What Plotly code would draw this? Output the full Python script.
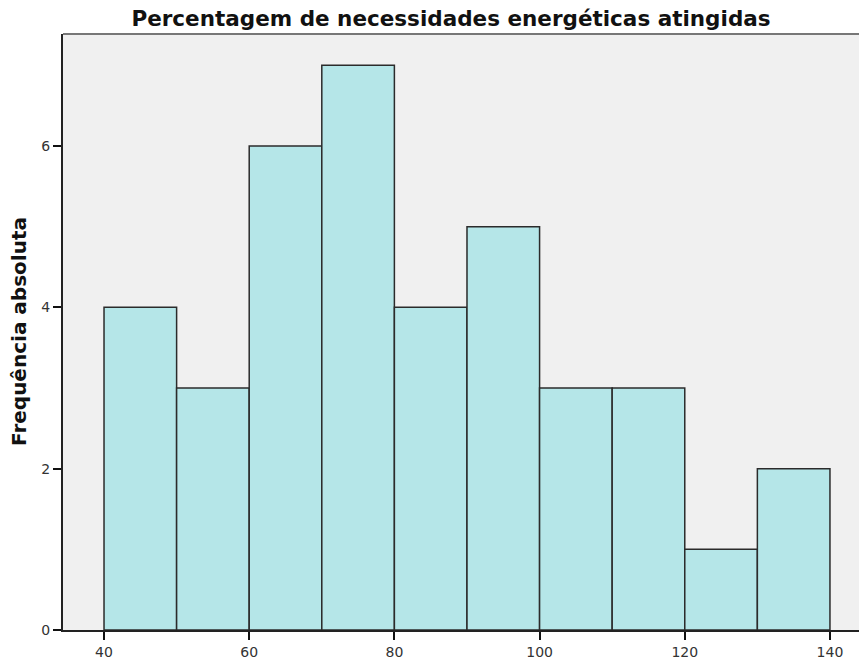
import plotly.graph_objects as go

bin_starts = [40, 50, 60, 70, 80, 90, 100, 110, 120, 130]
bin_width = 10
counts = [4, 3, 6, 7, 4, 5, 3, 3, 1, 2]
x_ticks = [40, 60, 80, 100, 120, 140]
y_ticks = [0, 2, 4, 6]

centers = [s + bin_width / 2 for s in bin_starts]

fig = go.Figure(go.Bar(
    x=centers, y=counts, width=[bin_width] * len(counts),
    marker=dict(color="#B5E6E8", line=dict(color="#2b2b2b", width=1.5)),
))

W, H = 859, 660
L, T, B = 63, 34, 30
PW, PH = W - L, H - T - B
fig.update_layout(
    width=W, height=H,
    margin=dict(l=L, r=0, t=T, b=B, pad=0),
    paper_bgcolor="white", plot_bgcolor="#F0F0F0",
    showlegend=False,
    title=dict(text="<b>Percentagem de necessidades energéticas atingidas</b>",
               x=451 / W, xanchor="center", y=1 - 18 / H, yanchor="middle",
               font=dict(family="DejaVu Sans", size=21.5, color="#111")),
    font=dict(family="DejaVu Sans", size=14, color="#333"),
    xaxis=dict(range=[34.35, 144.0], tickvals=x_ticks, ticks="outside", ticklen=8,
               tickcolor="#111", tickwidth=1.5, showgrid=False, zeroline=False,
               showline=True, linecolor="#222", linewidth=2,
               tickfont=dict(size=14, color="#333")),
    yaxis=dict(range=[0, 7.388], tickvals=y_ticks, ticks="outside", ticklen=8,
               tickcolor="#111", tickwidth=1.5, showgrid=False, zeroline=False,
               showline=True, linecolor="#222", linewidth=2,
               tickfont=dict(size=14, color="#333")),
)
fig.add_annotation(text="<b>Frequência absoluta</b>", textangle=-90,
                   xref="paper", yref="paper", x=(19 - L) / PW, y=(H - B - 332) / PH,
                   xanchor="center", yanchor="middle", showarrow=False,
                   font=dict(family="DejaVu Sans", size=20, color="#111"))
fig.add_shape(type="line", xref="paper", yref="paper", x0=0, x1=1, y0=1, y1=1,
              line=dict(color="#777", width=2))
fig.write_html("out.html", config={"displayModeBar": False},
               post_script="document.body.style.margin='0';document.body.style.overflow='hidden';")
